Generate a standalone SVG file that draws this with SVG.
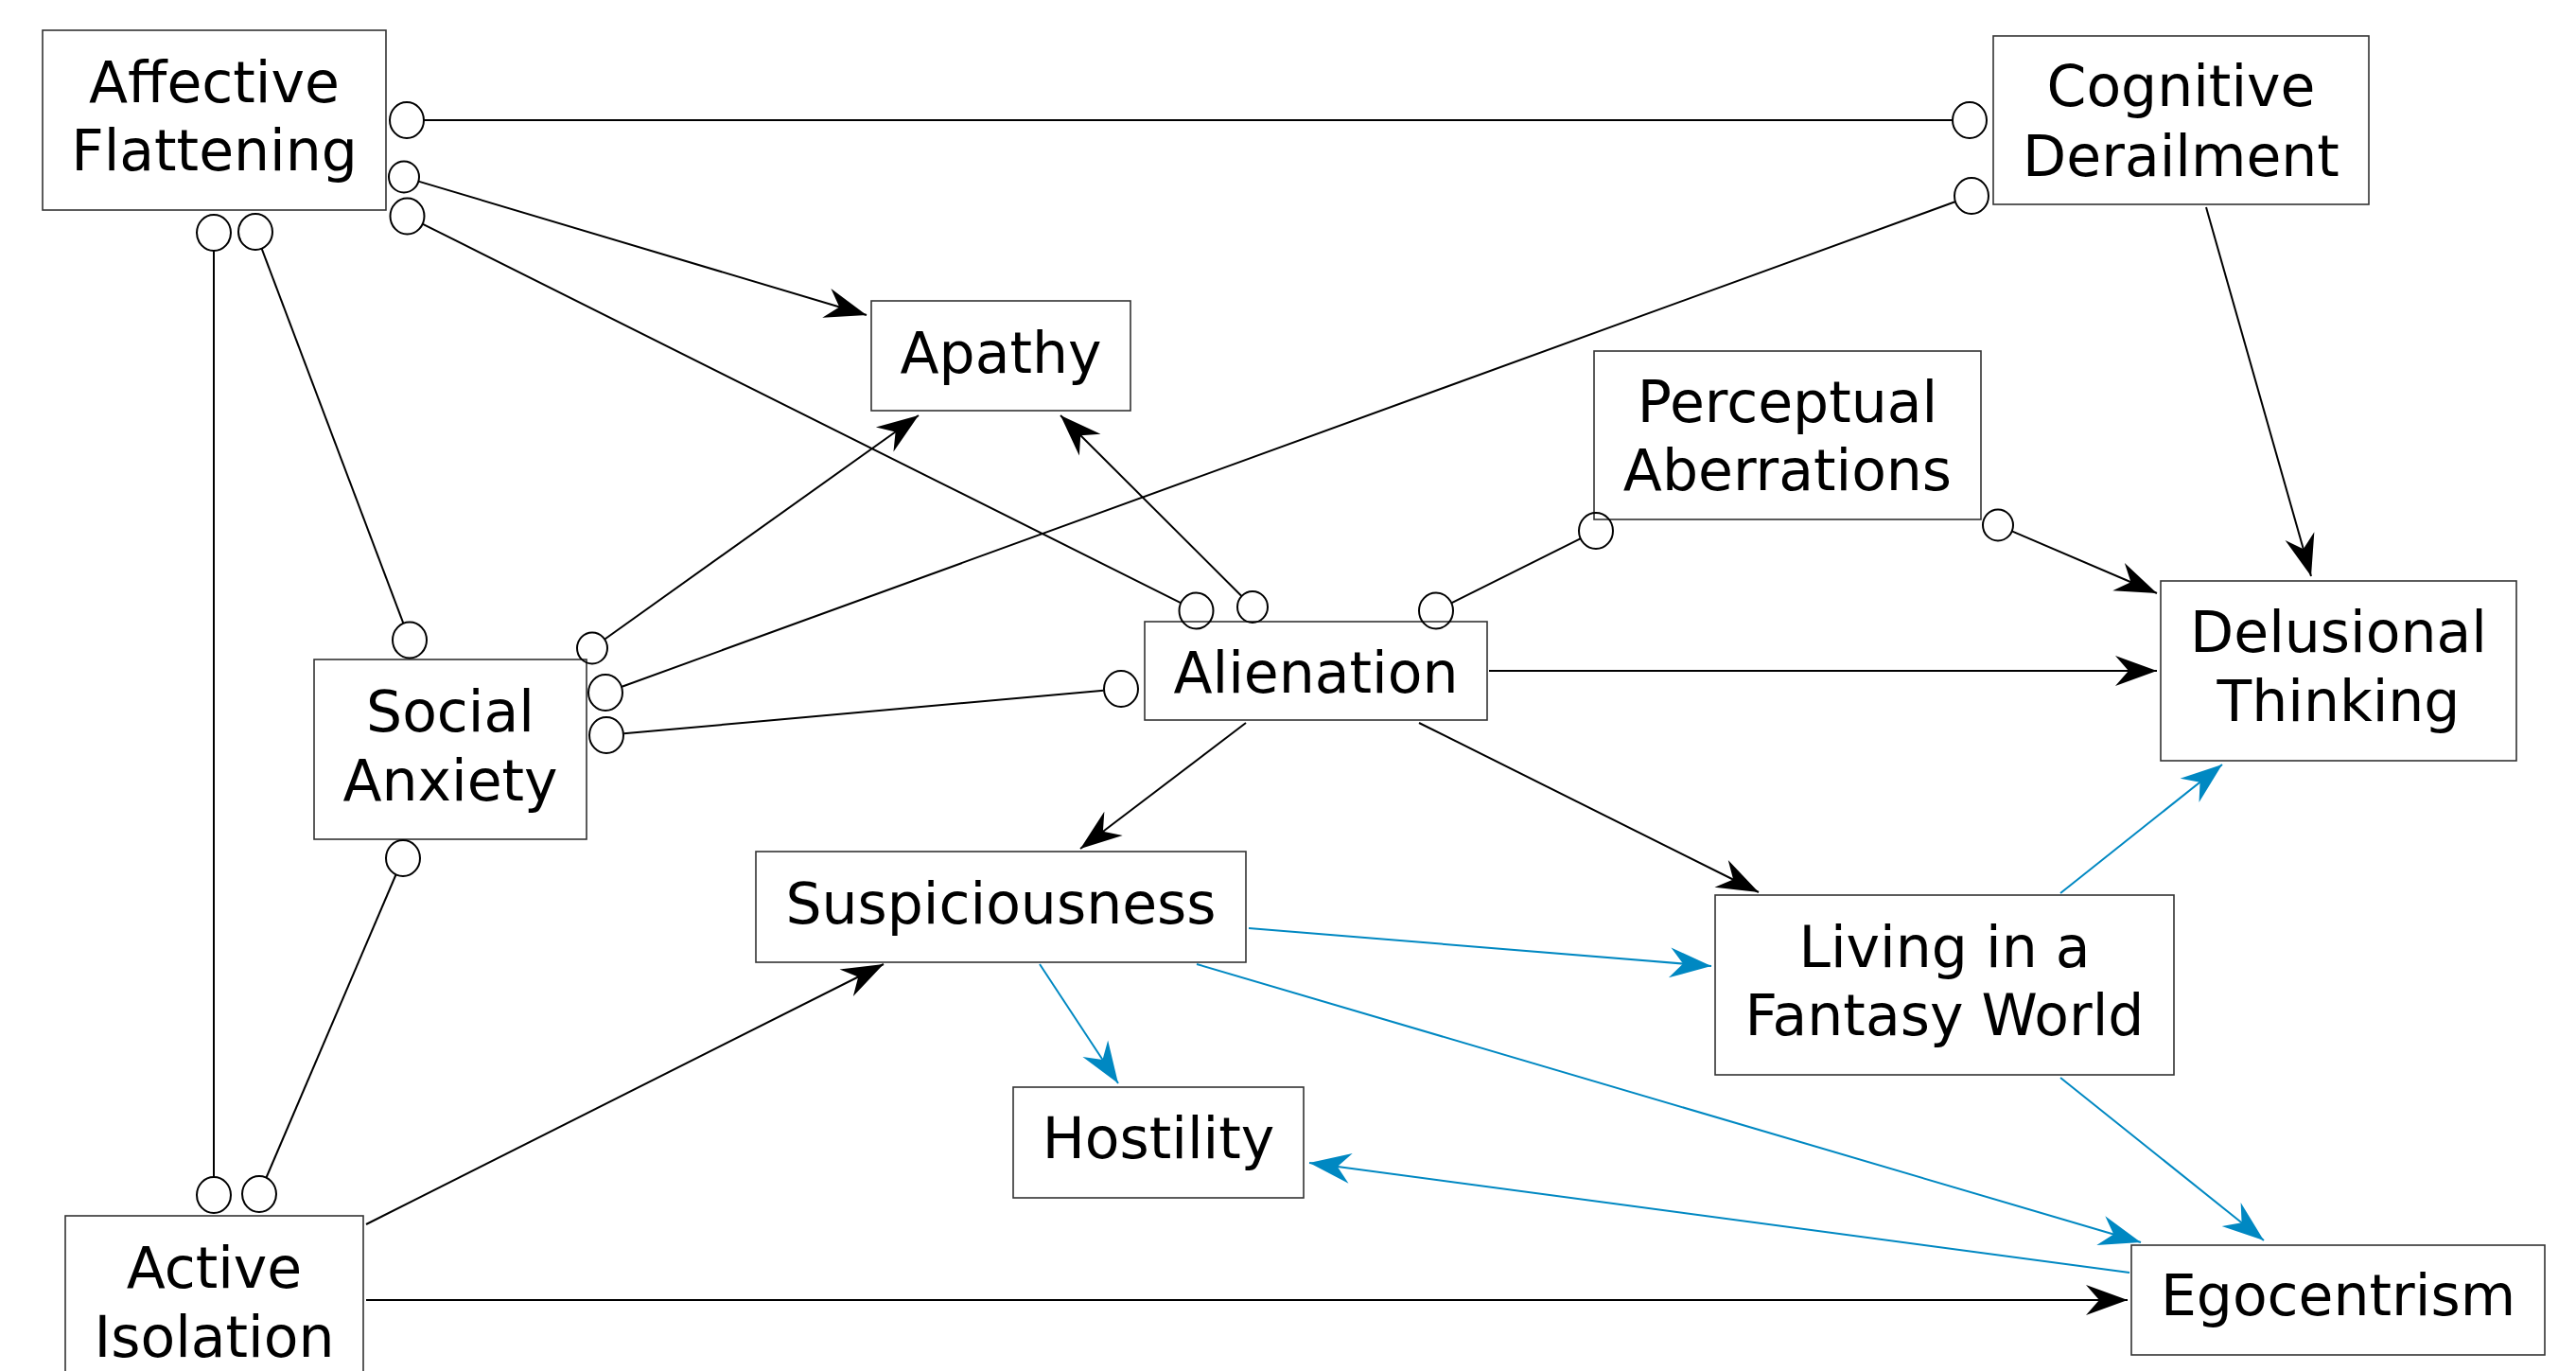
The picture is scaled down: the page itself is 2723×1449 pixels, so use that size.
<svg xmlns="http://www.w3.org/2000/svg" width="2723" height="1449" viewBox="0 0 2723 1449">
<style>
.box{fill:#fff;stroke:#333;stroke-width:1.6}
.lbl{font-family:"DejaVu Sans","Liberation Sans",sans-serif;font-size:60px;fill:#000;text-anchor:middle}
.e{stroke:#000;stroke-width:2;fill:none}
.b{stroke:#0088c2;stroke-width:2;fill:none}
.c{fill:none;stroke:#000;stroke-width:2}
</style>
<defs>
<marker id="ak" viewBox="-46 -18 48 36" refX="0" refY="0" markerWidth="48" markerHeight="36" orient="auto" markerUnits="userSpaceOnUse"><path d="M0,0 L-44,-16 L-30,0 L-44,16 Z" fill="#000"/></marker>
<marker id="ab" viewBox="-46 -18 48 36" refX="0" refY="0" markerWidth="48" markerHeight="36" orient="auto" markerUnits="userSpaceOnUse"><path d="M0,0 L-44,-16 L-30,0 L-44,16 Z" fill="#0088c2"/></marker>
</defs>
<rect width="2723" height="1449" fill="#fff"/>
<g id="node-affective-flattening"><rect class="box" x="45" y="32" width="363" height="190"/><text class="lbl" x="226.5" y="108">Affective</text><text class="lbl" x="226.5" y="180">Flattening</text></g>
<g id="node-cognitive-derailment"><rect class="box" x="2107" y="38" width="397" height="178"/><text class="lbl" x="2305.5" y="112">Cognitive</text><text class="lbl" x="2305.5" y="186">Derailment</text></g>
<g id="node-apathy"><rect class="box" x="921" y="318" width="274" height="116"/><text class="lbl" x="1058" y="394">Apathy</text></g>
<g id="node-perceptual-aberrations"><rect class="box" x="1685" y="371" width="409" height="178"/><text class="lbl" x="1889.5" y="446">Perceptual</text><text class="lbl" x="1889.5" y="518">Aberrations</text></g>
<g id="node-delusional-thinking"><rect class="box" x="2284" y="614" width="376" height="190"/><text class="lbl" x="2472" y="689">Delusional</text><text class="lbl" x="2472" y="762">Thinking</text></g>
<g id="node-social-anxiety"><rect class="box" x="332" y="697" width="288" height="190"/><text class="lbl" x="476" y="773">Social</text><text class="lbl" x="476" y="846">Anxiety</text></g>
<g id="node-alienation"><rect class="box" x="1210" y="657" width="362" height="104"/><text class="lbl" x="1391" y="732">Alienation</text></g>
<g id="node-suspiciousness"><rect class="box" x="799" y="900" width="518" height="117"/><text class="lbl" x="1058" y="976">Suspiciousness</text></g>
<g id="node-living-in-a-fantasy-world"><rect class="box" x="1813" y="946" width="485" height="190"/><text class="lbl" x="2055.5" y="1022">Living in a</text><text class="lbl" x="2055.5" y="1094">Fantasy World</text></g>
<g id="node-hostility"><rect class="box" x="1071" y="1149" width="307" height="117"/><text class="lbl" x="1224.5" y="1224">Hostility</text></g>
<g id="node-egocentrism"><rect class="box" x="2253" y="1316" width="437" height="116"/><text class="lbl" x="2471.5" y="1390">Egocentrism</text></g>
<g id="node-active-isolation"><rect class="box" x="69" y="1285" width="315" height="200"/><text class="lbl" x="226.5" y="1361">Active</text><text class="lbl" x="226.5" y="1434">Isolation</text></g>
<g id="connectors">
<line class="e" x1="448" y1="127" x2="2064" y2="127"/>
<ellipse class="c" cx="430" cy="127" rx="18" ry="19"/><ellipse class="c" cx="2082" cy="127" rx="18" ry="19"/>
<line class="e" x1="447" y1="236.8" x2="1248" y2="637.2"/>
<ellipse class="c" cx="430.5" cy="228.5" rx="18" ry="19"/><ellipse class="c" cx="1264.5" cy="645.5" rx="18" ry="19"/>
<line class="e" x1="276.5" y1="262.3" x2="426.5" y2="659.2"/>
<ellipse class="c" cx="270" cy="245" rx="18" ry="19"/><ellipse class="c" cx="433" cy="676.5" rx="18" ry="19"/>
<line class="e" x1="226" y1="265" x2="226" y2="1244"/>
<ellipse class="c" cx="226" cy="246" rx="18" ry="19"/><ellipse class="c" cx="226" cy="1263" rx="18" ry="19"/>
<line class="e" x1="657.4" y1="725.7" x2="2066.6" y2="213.3"/>
<ellipse class="c" cx="640" cy="732" rx="18" ry="19"/><ellipse class="c" cx="2084" cy="207" rx="18" ry="19"/>
<line class="e" x1="659.4" y1="775.3" x2="1166.6" y2="729.7"/>
<ellipse class="c" cx="641" cy="777" rx="18" ry="19"/><ellipse class="c" cx="1185" cy="728" rx="18" ry="19"/>
<line class="e" x1="418.7" y1="924" x2="281.3" y2="1245"/>
<ellipse class="c" cx="426" cy="907" rx="18" ry="19"/><ellipse class="c" cx="274" cy="1262" rx="18" ry="19"/>
<line class="e" x1="1534.6" y1="637.2" x2="1670.4" y2="569.3"/>
<ellipse class="c" cx="1518" cy="645.5" rx="18" ry="19"/><ellipse class="c" cx="1687" cy="561" rx="18" ry="19"/>
<line class="e" x1="442.3" y1="191.6" x2="916" y2="333" marker-end="url(#ak)"/>
<ellipse class="c" cx="427" cy="187" rx="16" ry="16.5"/>
<line class="e" x1="639" y1="675.7" x2="971" y2="439" marker-end="url(#ak)"/>
<ellipse class="c" cx="626" cy="685" rx="16" ry="16.5"/>
<line class="e" x1="1312.7" y1="630.2" x2="1121" y2="439" stroke-width="1.6" marker-end="url(#ak)"/>
<ellipse class="c" cx="1324" cy="641.5" rx="16" ry="16.5"/>
<line class="e" x1="2126.7" y1="561.3" x2="2280" y2="627" marker-end="url(#ak)"/>
<ellipse class="c" cx="2112" cy="555" rx="16" ry="16.5"/>
<line class="e" x1="387" y1="1294" x2="934" y2="1019" marker-end="url(#ak)"/>
<line class="e" x1="387" y1="1374" x2="2249" y2="1374" marker-end="url(#ak)"/>
<line class="e" x1="1574" y1="709" x2="2280" y2="709" marker-end="url(#ak)"/>
<line class="e" x1="2332" y1="219" x2="2443" y2="609" stroke-width="1.6" marker-end="url(#ak)"/>
<line class="e" x1="1317" y1="764" x2="1142" y2="897" stroke-width="1.6" marker-end="url(#ak)"/>
<line class="e" x1="1500" y1="764" x2="1859" y2="943" stroke-width="1.6" marker-end="url(#ak)"/>
<line class="b" x1="1320" y1="981" x2="1809" y2="1021" marker-end="url(#ab)"/>
<line class="b" x1="1099" y1="1019" x2="1182" y2="1145" marker-end="url(#ab)"/>
<line class="b" x1="1265" y1="1019" x2="2263" y2="1313" marker-end="url(#ab)"/>
<line class="b" x1="2251" y1="1345" x2="1384" y2="1229" marker-end="url(#ab)"/>
<line class="b" x1="2178" y1="944" x2="2349" y2="808" marker-end="url(#ab)"/>
<line class="b" x1="2178" y1="1139" x2="2393" y2="1311" marker-end="url(#ab)"/>
</g>
</svg>
